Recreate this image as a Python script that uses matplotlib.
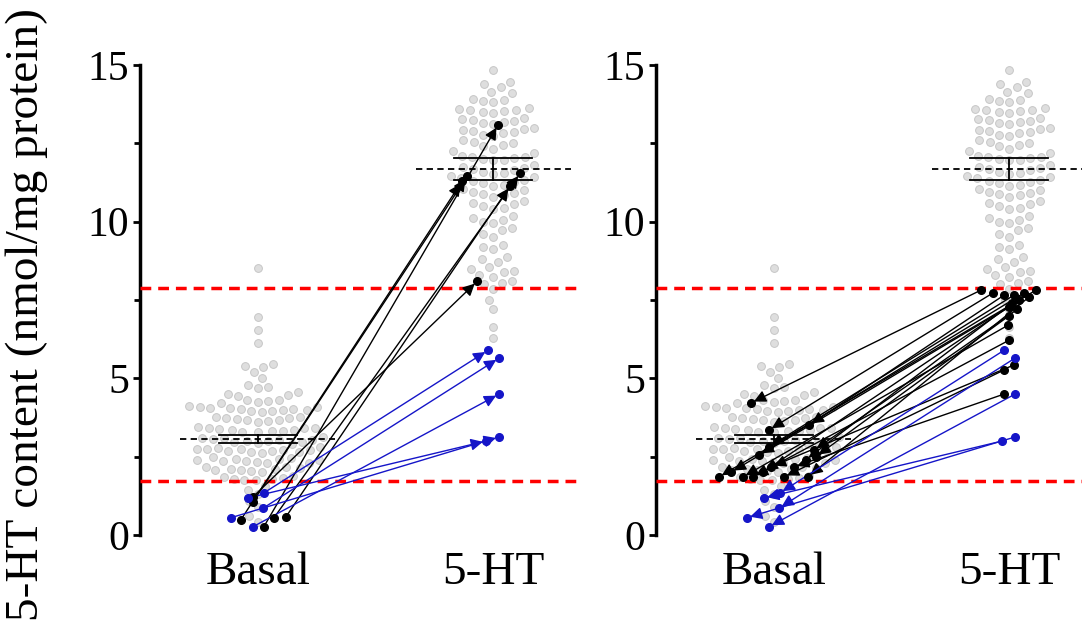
import numpy as np
import matplotlib
matplotlib.use("Agg")
import matplotlib.pyplot as plt

plt.rcParams['font.family'] = ['Liberation Serif', 'DejaVu Serif']

# ---------------- data ----------------
categories = ["Basal", "5-HT"]

basal_all = [
    8.52,
    6.97, 6.54, 6.14,
    5.45, 5.38, 5.35, 5.20, 5.00,
    4.78, 4.72, 4.70,
    4.55, 4.50, 4.48, 4.45,
    4.32, 4.30, 4.28, 4.25, 4.22,
    4.12, 4.10, 4.08, 4.06, 4.05, 4.03, 4.02, 4.00, 3.98, 3.97, 3.95, 3.93,
    3.78, 3.76, 3.74, 3.72, 3.70, 3.68, 3.66, 3.64, 3.62,
    3.45, 3.43, 3.41, 3.40, 3.38, 3.36, 3.35, 3.33, 3.31, 3.30, 3.28,
    3.12, 3.10, 3.08, 3.06, 3.04, 3.03, 3.01, 3.00, 2.98, 2.96, 2.94, 2.92,
    2.80, 2.78, 2.76, 2.75, 2.73, 2.72, 2.70, 2.69, 2.67, 2.66, 2.64, 2.62,
    2.48, 2.46, 2.44, 2.42, 2.40, 2.38, 2.37, 2.35, 2.33, 2.31, 2.30,
    2.18, 2.16, 2.14, 2.12, 2.10, 2.08, 2.06, 2.04, 2.02,
    1.88, 1.85, 1.83, 1.80, 1.78, 1.76, 1.74,
    1.55, 1.45, 1.30, 1.10, 0.90, 0.60, 0.40,
]

ht_all = [
    14.84,
    14.45, 14.38, 14.30,
    14.15, 14.10,
    13.92, 13.88, 13.85, 13.82,
    13.62, 13.60, 13.57, 13.55, 13.52, 13.50, 13.48,
    13.32, 13.28, 13.25, 13.22, 13.18, 13.15, 13.12,
    13.00, 12.97, 12.94, 12.90, 12.86, 12.82, 12.78, 12.72,
    12.60, 12.55, 12.50, 12.45, 12.40, 12.33, 12.25, 12.20,
    12.10, 12.07, 12.05, 12.02, 12.00, 11.98, 11.96,
    11.80, 11.76, 11.72, 11.68, 11.64, 11.60, 11.56, 11.53,
    11.45, 11.42, 11.38, 11.34, 11.30, 11.26, 11.22, 11.18, 11.15,
    11.05, 11.00, 10.96, 10.92, 10.88, 10.84, 10.80,
    10.65, 10.60, 10.55, 10.50, 10.45, 10.40,
    10.18, 10.12, 10.06, 10.00, 9.95,
    9.80, 9.72, 9.62, 9.52,
    9.25, 9.18, 9.12,
    8.88, 8.82, 8.72,
    8.55, 8.50, 8.44, 8.38, 8.30, 8.25,
    8.10, 8.05, 8.00, 7.85,
    7.50, 7.20, 6.65, 6.30,
]

basal_mean, basal_sem = 3.06, 0.13
ht_mean, ht_sem = 11.68, 0.36
upper_threshold = 7.88
lower_threshold = 1.72

# left panel: low-basal cells, black = responders above upper threshold
left_black_basal = [1.21, 1.05, 0.48, 0.26, 0.54, 0.57]
left_black_ht = [8.10, 11.45, 11.30, 13.10, 11.55, 11.15]
# blue = low basal, 5-HT below upper threshold (shown in both panels)
blue_basal = [0.55, 1.34, 0.85, 0.26, 1.18]
blue_ht = [3.13, 5.90, 5.65, 4.50, 3.00]
# right panel: cells with 5-HT below upper threshold, black = normal basal
right_black_basal = [4.21, 3.35, 3.50, 2.81, 2.55, 1.85, 2.00, 1.85, 1.85,
                     2.00, 2.17, 1.85, 2.17, 2.40, 2.50, 1.85, 2.70]
right_black_ht = [7.82, 7.73, 7.66, 7.66, 7.73, 7.82, 7.28, 6.70, 6.22,
                  7.50, 5.43, 5.27, 4.50, 7.40, 7.00, 7.60, 7.20]

# horizontal jitter (pixels) of the paired points
left_black_basal_dx = [-5, -5, -17, 6, 16, 28]
left_black_ht_dx = [-16, -26, -31, 5, 27, 17]
blue_basal_dx = [-27, 6, 5, -5, -10]
blue_ht_dx = [6, -5, 6, 6, -7]
right_black_basal_dx = [-23, -5, 35, -5, -15, -55, -43, -31, -21,
                        -11, -3, 10, 20, 32, 42, 34, 40]
right_black_ht_dx = [-28, -16, -5, 5, 15, 27, 0, -1, 0,
                     10, 5, -5, -5, 3, 0, 20, 8]

# ---------------- layout ----------------
W, H = 1082, 629
PX_PER_X = 235.5
PX_PER_Y = 470 / 15.0

fig = plt.figure(figsize=(W / 100, H / 100), dpi=100)
ax1 = fig.add_axes([140 / W, 94 / H, 440 / W, 470 / H])
ax2 = fig.add_axes([656 / W, 94 / H, 426 / W, 470 / H])


def swarm(vals, d=10.5):
    ys = np.asarray(vals) * PX_PER_Y
    order = np.argsort(ys)
    xs = np.zeros(len(ys))
    placed = []
    for k, i in enumerate(order):
        y = ys[i]
        neigh = [(xj, yj) for xj, yj in placed if abs(yj - y) < d]
        cands = [0.0]
        for xj, yj in neigh:
            dx = np.sqrt(d * d - (yj - y) ** 2)
            cands += [xj + dx, xj - dx]
        sgn = 1 if k % 2 else -1
        cands.sort(key=lambda c: (round(abs(c), 3), sgn * c))
        for c in cands:
            if all((c - xj) ** 2 + (y - yj) ** 2 >= d * d - 1e-6 for xj, yj in neigh):
                xs[i] = c
                break
        placed.append((xs[i], y))
    return xs / PX_PER_X


basal_x = swarm(basal_all)
ht_x = swarm(ht_all)

GRAY_F = '#dedede'
GRAY_E = '#c6c6c6'
BLUE = '#1515c8'


def draw_arrows(ax, b_vals, b_dx, h_vals, h_dx, color, to_ht):
    for bv, bd, hv, hd in zip(b_vals, b_dx, h_vals, h_dx):
        p_b = (0 + bd / PX_PER_X, bv)
        p_h = (1 + hd / PX_PER_X, hv)
        start, end = (p_b, p_h) if to_ht else (p_h, p_b)
        ax.annotate('', xy=end, xytext=start,
                    arrowprops=dict(arrowstyle='-|>,head_length=0.6,head_width=0.3',
                                    color=color, lw=1.0, shrinkA=0, shrinkB=2.5,
                                    mutation_scale=12),
                    zorder=6, annotation_clip=False)
        ax.plot([p_b[0], p_h[0]], [p_b[1], p_h[1]], ls='none', marker='o', ms=5.5,
                color=color, zorder=7, clip_on=False)


for ax, xmax in ((ax1, 440 / PX_PER_X - 0.5), (ax2, 426 / PX_PER_X - 0.5)):
    ax.set_xlim(-0.5, xmax)
    ax.set_ylim(0, 15)
    ax.plot(0 + basal_x, basal_all, ls='none', marker='o', ms=5.6, mfc=GRAY_F,
            mec=GRAY_E, mew=0.7, zorder=2, clip_on=False)
    ax.plot(1 + ht_x, ht_all, ls='none', marker='o', ms=5.6, mfc=GRAY_F,
            mec=GRAY_E, mew=0.7, zorder=2, clip_on=False)
    # mean (dashed) and SEM
    for xc, m, s in ((0, basal_mean, basal_sem), (1, ht_mean, ht_sem)):
        ax.plot([xc - 0.33, xc + 0.33], [m, m], color='black', lw=1.3,
                dashes=(3.5, 2.4), zorder=4)
        ax.plot([xc, xc], [m - s, m + s], color='black', lw=1.3, zorder=4)
        for yy in (m - s, m + s):
            ax.plot([xc - 0.165, xc + 0.165], [yy, yy], color='black', lw=1.3, zorder=4)
    for th in (upper_threshold, lower_threshold):
        ax.axhline(th, color='#ff0000', lw=2.5, dashes=(3.1, 2.0), zorder=3)

    for sp in ('top', 'right', 'bottom'):
        ax.spines[sp].set_visible(False)
    ax.spines['left'].set_linewidth(2.5)
    ax.set_yticks([0, 5, 10, 15])
    ax.set_yticks([2.5, 7.5, 12.5], minor=True)
    ax.tick_params(axis='y', which='major', length=5, width=2, labelsize=30, pad=3)
    ax.tick_params(axis='y', which='minor', length=4, width=2)
    ax.set_xticks([0, 1])
    ax.set_xticklabels(categories)
    ax.tick_params(axis='x', length=0, labelsize=34, pad=12)
    ax.patch.set_visible(False)

draw_arrows(ax1, left_black_basal, left_black_basal_dx, left_black_ht,
            left_black_ht_dx, 'black', True)
draw_arrows(ax1, blue_basal, blue_basal_dx, blue_ht, blue_ht_dx, BLUE, True)
draw_arrows(ax2, right_black_basal, right_black_basal_dx, right_black_ht,
            right_black_ht_dx, 'black', False)
draw_arrows(ax2, blue_basal, blue_basal_dx, blue_ht, blue_ht_dx, BLUE, False)

fig.text(27 / W, 0.5, '5-HT content (nmol/mg protein)', rotation=90,
         fontsize=34, ha='center', va='center')

fig.savefig('out.png', dpi=100)
